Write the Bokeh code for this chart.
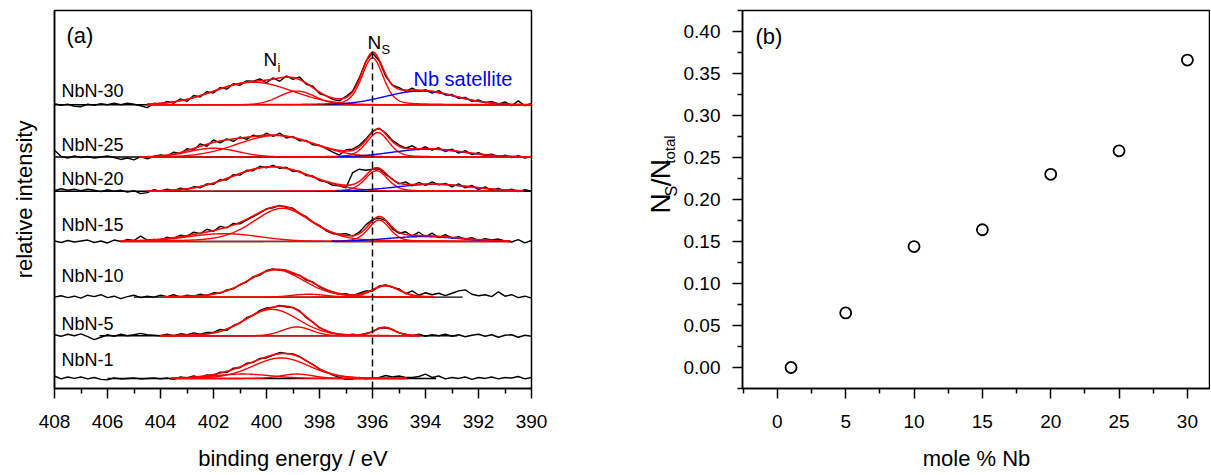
import numpy as np
from bokeh.plotting import figure
from bokeh.models import Range1d, Label, FixedTicker, PrintfTickFormatter
from bokeh.layouts import row
from bokeh.embed import file_html
from bokeh.resources import INLINE
from bokeh.core.properties import value

FONT = "Liberation Sans"

# ---------------- panel (a): N 1s spectra ----------------
energy = np.linspace(408.0, 390.0, 73)      # measured binding-energy grid (0.25 eV step)
samples = ["NbN-30", "NbN-25", "NbN-20", "NbN-15", "NbN-10", "NbN-5", "NbN-1"]
offsets = [290.5, 237.0, 202.0, 150.5, 93.5, 54.0, 10.3]   # vertical stacking of the spectra

counts_30 = [1.0, -0.5, 0.5, -1.5, -2.0, 0.5, -0.5, 1.0, 0.0, 1.5, 0.0, 1.5, 0.5, -1.0,
             -3.0, 1.5, 0.5, 3.5, 1.5, 6.0, 3.5, 9.5, 8.0, 13.5, 12.0, 17.5, 16.0, 21.5,
             20.0, 24.5, 24.0, 26.5, 22.5, 27.5, 24.0, 29.5, 26.0, 28.5, 21.0, 19.0, 11.5, 9.0,
             5.5, 4.0, 8.5, 14.0, 27.5, 44.5, 53.0, 45.0, 29.0, 20.0, 17.5, 14.0, 17.0, 13.5,
             15.5, 12.0, 14.5, 10.0, 10.5, 6.5, 7.5, 3.5, 5.0, 2.0, 3.5, 0.5, 3.0, -1.0, 4.0, -1.0, 1.5]
counts_25 = [7.0, 0.5, -1.0, 1.0, -0.5, 0.5, -1.0, 0.0, 1.0, -0.5, -2.5, -1.0, -3.0, 0.5,
             -2.0, 0.5, 2.0, 1.0, 5.0, 3.5, 8.5, 7.0, 13.5, 11.0, 17.5, 14.5, 18.5, 16.0,
             20.5, 18.0, 22.5, 20.0, 24.5, 21.0, 24.5, 19.5, 21.0, 16.5, 17.0, 12.5, 12.0, 8.5,
             5.0, 2.0, 7.5, 8.0, 12.0, 18.5, 26.5, 29.5, 24.5, 17.0, 12.5, 9.0, 11.5, 7.5,
             10.5, 7.0, 9.5, 5.5, 8.0, 4.0, 6.5, 2.5, 4.5, 1.5, 3.0, 0.0, 2.0, -0.5, 1.5, -1.0, 0.5]
counts_20 = [0.5, 2.5, 1.0, 2.0, 0.5, 2.0, 1.0, -0.5, 1.5, 0.0, 1.0, -1.0, 0.5, -2.5,
             -1.5, 1.5, 0.0, 2.0, 0.5, 3.0, 1.5, 4.5, 3.5, 7.5, 7.0, 12.0, 11.5, 17.0,
             16.5, 21.5, 21.0, 25.5, 24.0, 26.5, 23.5, 24.5, 20.0, 20.5, 16.0, 15.5, 11.0, 9.5,
             6.0, 5.5, 3.5, 19.0, 22.5, 21.5, 22.5, 23.0, 17.0, 12.5, 7.5, 9.5, 5.5, 9.0,
             6.0, 9.5, 6.5, 8.0, 4.5, 7.5, 3.5, 6.0, 1.5, 4.5, 0.5, 3.0, 0.0, 2.0, -0.5, 1.5, 0.0]
counts_15 = [0.5, -1.0, 1.0, -0.5, 0.5, 1.5, -1.0, 0.5, -1.5, 1.5, 0.0, 2.0, 1.0, 5.5,
             1.5, 2.0, 1.0, 4.5, 3.0, 6.5, 5.5, 9.5, 8.0, 12.5, 10.5, 15.5, 14.0, 18.5,
             18.0, 22.0, 25.5, 29.0, 33.5, 34.5, 37.0, 35.0, 34.0, 28.5, 25.5, 19.5, 16.5, 11.0,
             8.0, 7.5, 8.0, 5.5, 9.5, 17.0, 22.5, 24.0, 21.5, 13.0, 8.5, 10.0, 5.5, 9.5,
             5.0, 8.5, 4.0, 7.0, 3.5, 5.0, 2.5, 4.0, 1.0, 3.0, 1.5, 2.5, 0.5, -0.5, 2.0, -1.5, 1.0]
counts_10 = [0.0, 1.5, -0.5, 1.0, -1.0, 2.0, 0.5, 2.5, -0.5, 1.0, -1.5, 0.5, 2.0, -0.5,
             1.0, 0.0, 2.0, 0.5, 2.5, 0.0, 2.0, 1.0, 3.0, 1.5, 4.5, 4.0, 7.5, 8.5,
             13.0, 15.5, 21.0, 22.5, 27.5, 29.0, 27.5, 27.5, 24.0, 22.5, 17.5, 15.5, 10.5, 7.5,
             5.0, 3.0, 3.5, 1.5, 4.0, 6.5, 6.0, 11.5, 12.5, 10.0, 8.5, 3.5, 6.5, 2.0,
             4.5, 2.5, 4.0, 1.5, 4.0, 6.5, 7.5, 3.0, 1.5, 2.5, 0.5, 5.5, 1.0, 2.5, -0.5, 1.0, -1.0]
counts_5 = [1.0, -0.5, 1.5, 0.0, 2.0, -1.0, -4.0, -1.5, 1.0, -0.5, 1.5, 0.0, 1.0, 2.5,
            1.0, 0.5, 0.0, 1.5, 0.0, 2.0, 1.0, 3.0, 1.5, 3.5, 3.5, 6.5, 5.5, 10.5,
            13.0, 18.5, 21.0, 26.0, 28.5, 29.0, 31.0, 29.5, 29.0, 25.5, 18.5, 14.0, 8.0, 5.5,
            2.5, 1.5, 0.5, 1.5, 0.5, 2.5, 4.0, 8.0, 8.0, 6.5, 3.0, 1.5, 0.0, 1.5,
            -0.5, 1.0, 0.0, 1.5, -0.5, 1.0, -1.0, 0.5, 1.5, -0.5, 1.0, -1.5, 0.5, 1.0, -1.5, 0.5, -0.5]
counts_1 = [2.5, -0.5, 1.5, 0.0, 1.5, -0.5, 1.0, -1.0, -1.5, 0.5, -0.5, 0.0, 0.5, -0.5,
            0.0, 0.5, -0.5, 0.5, -1.0, 1.5, 0.5, 2.5, 1.0, 3.5, 3.0, 6.5, 6.0, 10.5,
            11.0, 15.5, 16.5, 20.5, 21.0, 24.0, 26.5, 25.5, 25.0, 22.5, 18.0, 14.5, 9.5, 6.5,
            3.5, 1.0, -1.0, -0.5, 1.0, -0.5, 0.5, 1.0, 3.0, 1.5, 2.5, 1.0, 1.0, 2.0,
            4.5, 1.0, 2.5, -0.5, 1.0, 0.0, 1.5, -1.0, 1.0, 0.0, 1.5, -0.5, 1.0, 0.5, 2.0, -0.5, 1.0]

# fitted peaks: (centre eV, height, FWHM eV, Lorentzian fraction, kind)
peaks_30 = [(400.5, 23.0, 3.5, 0.0, "N"), (398.85, 14.0, 1.6, 0.0, "N"),
            (396.0, 48.0, 0.95, 0.3, "N"), (394.2, 14.0, 3.1, 0.0, "sat")]
peaks_25 = [(399.65, 22.0, 3.4, 0.0, "N"), (402.0, 9.0, 2.2, 0.0, "N"),
            (395.8, 25.0, 1.0, 0.3, "N"), (393.9, 8.0, 3.2, 0.0, "sat")]
peaks_20 = [(399.8, 25.0, 3.5, 0.0, "N"), (395.85, 21.0, 1.0, 0.3, "N"),
            (393.7, 7.0, 3.4, 0.0, "sat")]
peaks_15 = [(399.4, 34.0, 2.6, 0.3, "N"), (401.6, 8.0, 3.2, 0.0, "N"),
            (395.75, 22.0, 0.95, 0.3, "N"), (394.1, 5.0, 3.2, 0.0, "sat")]
peaks_10 = [(399.65, 28.0, 2.5, 0.2, "N"), (398.4, 3.0, 1.5, 0.0, "N"),
            (395.5, 11.5, 1.2, 0.2, "N")]
peaks_5 = [(399.8, 27.0, 2.4, 0.1, "N"), (398.85, 9.0, 1.3, 0.0, "N"),
           (395.55, 8.5, 0.9, 0.2, "N")]
peaks_1 = [(399.45, 21.0, 2.5, 0.1, "N"), (400.9, 4.5, 2.5, 0.0, "N"),
           (398.85, 4.5, 1.4, 0.0, "N")]

fit_window = [(404.5, 390.0), (404.8, 390.0), (404.5, 390.3), (405.5, 390.8),
              (403.9, 393.7), (404.0, 394.2), (403.6, 394.7)]
background_window = [(408.0, 390.0), (408.0, 390.0), (408.0, 390.0), (405.5, 391.3),
                     (405.0, 392.6), (406.3, 392.8), (406.0, 393.6)]
ns_energy = 396.0          # position of the N_S component (dashed line)
ns_line_top = 345.0

spectra = [counts_30, counts_25, counts_20, counts_15, counts_10, counts_5, counts_1]
peak_sets = [peaks_30, peaks_25, peaks_20, peaks_15, peaks_10, peaks_5, peaks_1]

# ---------------- panel (b) ----------------
mole_pct = [1, 5, 10, 15, 20, 25, 30]
ns_fraction = [0.000, 0.065, 0.144, 0.164, 0.230, 0.258, 0.366]
x_ticks_b = [0, 5, 10, 15, 20, 25, 30]
x_minor_b = [-2.5, 2.5, 7.5, 12.5, 17.5, 22.5, 27.5]
y_ticks_b = [0.0, 0.05, 0.10, 0.15, 0.20, 0.25, 0.30, 0.35, 0.40]
y_minor_b = [-0.025, 0.025, 0.075, 0.125, 0.175, 0.225, 0.275, 0.325, 0.375, 0.425]
x_ticks_a = [408, 406, 404, 402, 400, 398, 396, 394, 392, 390]
x_minor_a = [407, 405, 403, 401, 399, 397, 395, 393, 391]

H = 473


def pseudo_voigt(e, c, h, w, eta):
    d = e - c
    g = np.exp(-4.0 * np.log(2.0) * d ** 2 / w ** 2)
    lor = 1.0 / (1.0 + (2.0 * d / w) ** 2)
    return h * ((1.0 - eta) * g + eta * lor)


def style_axis(ax):
    ax.axis_line_width = 1.5
    ax.axis_line_color = "black"
    ax.major_tick_line_width = 1.5
    ax.minor_tick_line_width = 1.5
    ax.major_tick_line_color = "black"
    ax.minor_tick_line_color = "black"
    ax.major_tick_in = 0
    ax.major_tick_out = 10
    ax.minor_tick_in = 0
    ax.minor_tick_out = 5
    ax.major_label_text_font = FONT
    ax.major_label_text_font_size = "19px"
    ax.major_label_text_color = "black"
    ax.major_label_standoff = 16
    ax.axis_label_text_font = FONT
    ax.axis_label_text_font_size = "22px"
    ax.axis_label_text_font_style = "normal"
    ax.axis_label_text_color = "black"


# ---------- figure (a) ----------
p1 = figure(width=600, height=H, x_range=Range1d(408, 390), y_range=Range1d(0, 387),
            output_backend="svg", toolbar_location=None,
            min_border_left=54, min_border_right=69, min_border_top=10, min_border_bottom=76)
p1.grid.visible = False
p1.outline_line_color = "black"
p1.outline_line_width = 1.5
style_axis(p1.xaxis[0])
p1.xaxis.ticker = FixedTicker(ticks=x_ticks_a, minor_ticks=x_minor_a)
p1.xaxis.axis_label = "binding energy / eV"
p1.xaxis.axis_label_standoff = 15
style_axis(p1.yaxis[0])
p1.yaxis.ticker = FixedTicker(ticks=[], minor_ticks=[])
p1.yaxis.major_tick_out = 0
p1.yaxis.minor_tick_out = 0
p1.yaxis.axis_label = "relative intensity"
p1.yaxis.axis_label_standoff = 18


def a_xy(xp, yp):
    """pixel position inside panel (a) -> data coordinates (for text placement)"""
    return 408.0 - (xp - 54.0) / 26.5, 397.0 - yp


for name, off, counts, pk, fw, bw in zip(samples, offsets, spectra, peak_sets,
                                         fit_window, background_window):
    p1.line([bw[0], bw[1]], [off, off], color="black", line_width=1.4)
    p1.line(energy, np.array(counts) + off, color="black", line_width=1.4)
    ef = np.linspace(fw[0], fw[1], 500)
    total = np.zeros_like(ef)
    blue = []
    for c, h, w, eta, kind in pk:
        comp = pseudo_voigt(ef, c, h, w, eta)
        total += comp
        if kind == "sat":
            keep = comp > 0.04 * h
            blue.append((ef[keep], comp[keep]))
        else:
            p1.line(ef, comp + off, color="#ff0000", line_width=1.4)
    for be, comp in blue:
        p1.line(be, comp + off, color="#0000ff", line_width=1.4)
    p1.line(ef, total + off, color="#ff0000", line_width=1.6)

p1.line([ns_energy, ns_energy], [0, ns_line_top], color="black", line_width=1.5, line_dash="7 4")

label_baselines = [92, 148, 183, 230, 282, 331, 368]
for name, yb in zip(samples, label_baselines):
    x, y = a_xy(61, yb)
    p1.add_layout(Label(x=x, y=y, text=name, text_font=FONT, text_font_size="18px",
                        text_color="black", text_baseline="alphabetic", text_align="left"))


def add_text(p, xy, text, size, color="black"):
    p.add_layout(Label(x=xy[0], y=xy[1], text=text, text_font=FONT, text_font_size=size,
                       text_color=color, text_baseline="alphabetic", text_align="left"))


add_text(p1, a_xy(66, 36), "(a)", "22px")
add_text(p1, a_xy(263, 60), "N", "19px")
add_text(p1, a_xy(277, 68), "i", "13px")
add_text(p1, a_xy(367, 43), "N", "19px")
add_text(p1, a_xy(381, 50), "S", "13px")
add_text(p1, a_xy(413, 80), "Nb satellite", "20px", color="#0000ff")

# ---------- narrow strip holding the rotated y label of panel (b):  N_S / N_total ----------
pm = figure(width=80, height=H, x_range=Range1d(600, 680), y_range=Range1d(0, H),
            output_backend="svg", toolbar_location=None, x_axis_location=None,
            y_axis_location=None, min_border_left=0, min_border_right=0,
            min_border_top=0, min_border_bottom=0)
pm.grid.visible = False
pm.outline_line_color = None

pieces = ["N", "S", "/", "N", "total"]
piece_size = ["28px", "16px", "28px", "28px", "15px"]
piece_x = [660, 671, 661, 660, 669]          # pixel centres of each piece (across)
piece_y = [241.5, 226, 215, 198.5, 174]      # pixel centres of each piece (along)
pm.text(x=piece_x, y=[H - v for v in piece_y], text=pieces, angle=np.pi / 2,
        text_font=value(FONT), text_font_size=piece_size, text_color="black",
        text_align="center", text_baseline="middle")

# ---------- figure (b) ----------
p2 = figure(width=530, height=H, x_range=Range1d(-2.55, 31.69), y_range=Range1d(-0.025, 0.425),
            output_backend="svg", toolbar_location=None,
            min_border_left=62, min_border_right=0, min_border_top=10, min_border_bottom=76)
p2.grid.visible = False
p2.outline_line_color = "black"
p2.outline_line_width = 1.5
style_axis(p2.xaxis[0])
style_axis(p2.yaxis[0])
p2.xaxis.ticker = FixedTicker(ticks=x_ticks_b, minor_ticks=x_minor_b)
p2.yaxis.ticker = FixedTicker(ticks=y_ticks_b, minor_ticks=y_minor_b)
p2.yaxis.formatter = PrintfTickFormatter(format="%.2f")
p2.yaxis.major_label_standoff = 12
p2.xaxis.axis_label = "mole % Nb"
p2.xaxis.axis_label_standoff = 15

p2.scatter(mole_pct, ns_fraction, marker="circle", size=11, fill_color=None,
           line_color="black", line_width=1.8)


def b_xy(xp, yp):
    return -2.55 + (xp - 742.0) / 13.67, (375.5 - yp) / 860.0


add_text(p2, b_xy(755, 37), "(b)", "22px")

layout = row(p1, pm, p2)
open("out.html", "w").write(file_html(layout, INLINE))
